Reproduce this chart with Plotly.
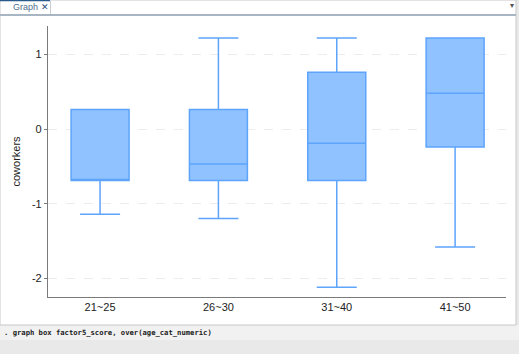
import plotly.graph_objects as go

categories = ["21~25", "26~30", "31~40", "41~50"]
q1_vals = [-0.69, -0.69, -0.69, -0.24]
median_vals = [-0.69, -0.47, -0.19, 0.48]
q3_vals = [0.26, 0.26, 0.76, 1.22]
lower_vals = [-1.14, -1.20, -2.12, -1.58]
upper_vals = [0.26, 1.22, 1.22, 1.22]
y_ticks = [-2, -1, 0, 1]
y_title = "coworkers"
command_text = ". graph box factor5_score, over(age_cat_numeric)"

W, H = 519, 354
L, R, T, B = 48, 506, 26, 297


def px(x):
    return (x - L) / (R - L)


def py(y):
    return (B - y) / (B - T)


fig = go.Figure()
fig.add_trace(go.Box(
    x=categories,
    q1=q1_vals, median=median_vals, q3=q3_vals,
    lowerfence=lower_vals, upperfence=upper_vals,
    fillcolor="#8fc2ff",
    line=dict(color="#5ea4fb", width=1.5),
    width=0.49,
    whiskerwidth=0.69,
    boxpoints=False,
    hoverinfo="skip",
))

shapes = []
# background below window
shapes.append(dict(type="rect", xref="paper", yref="paper", x0=px(0), x1=px(W), y0=py(H), y1=py(0),
                   fillcolor="#e9e9e9", line=dict(width=0), layer="below"))
shapes.append(dict(type="rect", xref="paper", yref="paper", x0=px(0), x1=px(W), y0=py(340), y1=py(325),
                   fillcolor="#f1f1f1", line=dict(width=0), layer="below"))
# window panel
shapes.append(dict(type="rect", xref="paper", yref="paper", x0=px(0), x1=px(516), y0=py(325), y1=py(0),
                   fillcolor="white", line=dict(color="#c8c8c8", width=1), layer="below"))
# tab bar line
shapes.append(dict(type="line", xref="paper", yref="paper", x0=px(0), x1=px(516), y0=py(15), y1=py(15),
                   line=dict(color="#a8b6c4", width=2)))
# tab top line
shapes.append(dict(type="line", xref="paper", yref="paper", x0=px(0), x1=px(50), y0=py(0.5), y1=py(0.5),
                   line=dict(color="#2a5a8a", width=1.5)))
# tab separator
shapes.append(dict(type="line", xref="paper", yref="paper", x0=px(50.5), x1=px(50.5), y0=py(1), y1=py(14),
                   line=dict(color="#c8cdd2", width=1)))

annotations = [
    dict(text="Graph", xref="paper", yref="paper", x=px(11), y=py(7.5), xanchor="left", yanchor="middle",
         showarrow=False, font=dict(family="Liberation Sans, Arial, sans-serif", size=9, color="#4f6f8f")),
    dict(text="<b>✕</b>", xref="paper", yref="paper", x=px(45), y=py(7), xanchor="center", yanchor="middle",
         showarrow=False, font=dict(family="DejaVu Sans", size=9, color="#1f4f80")),
    dict(text="▾", xref="paper", yref="paper", x=px(512), y=py(6), xanchor="center", yanchor="middle",
         showarrow=False, font=dict(family="DejaVu Sans", size=8, color="#555555")),
    dict(text="<b>" + command_text + "</b>", xref="paper", yref="paper", x=px(2), y=py(332), xanchor="left",
         yanchor="middle", showarrow=False,
         font=dict(family="DejaVu Sans Mono", size=7.2, color="#222222")),
]

fig.update_layout(
    width=W, height=H,
    margin=dict(l=L, r=W - R, t=T, b=H - B),
    paper_bgcolor="white", plot_bgcolor="white",
    showlegend=False,
    shapes=shapes,
    annotations=annotations,
    font=dict(family="Liberation Sans, Arial, sans-serif", size=11, color="#222222"),
    xaxis=dict(
        type="category", range=[-0.44, 3.43],
        showline=True, linecolor="#7a7a7a", linewidth=1.2,
        ticks="", showgrid=False, zeroline=False,
        tickfont=dict(size=11, color="#222222"),
    ),
    yaxis=dict(
        range=[-2.25, 1.38],
        tickvals=y_ticks, ticktext=[str(v) for v in y_ticks],
        showline=True, linecolor="#7a7a7a", linewidth=1.2,
        ticks="outside", ticklen=3, tickcolor="#7a7a7a",
        showgrid=True, gridcolor="#ececec", griddash="dash", gridwidth=1,
        zeroline=False,
        title=dict(text=y_title, standoff=9, font=dict(size=11)),
        tickfont=dict(size=11, color="#222222"),
    ),
)

fig.write_html("out.html")
